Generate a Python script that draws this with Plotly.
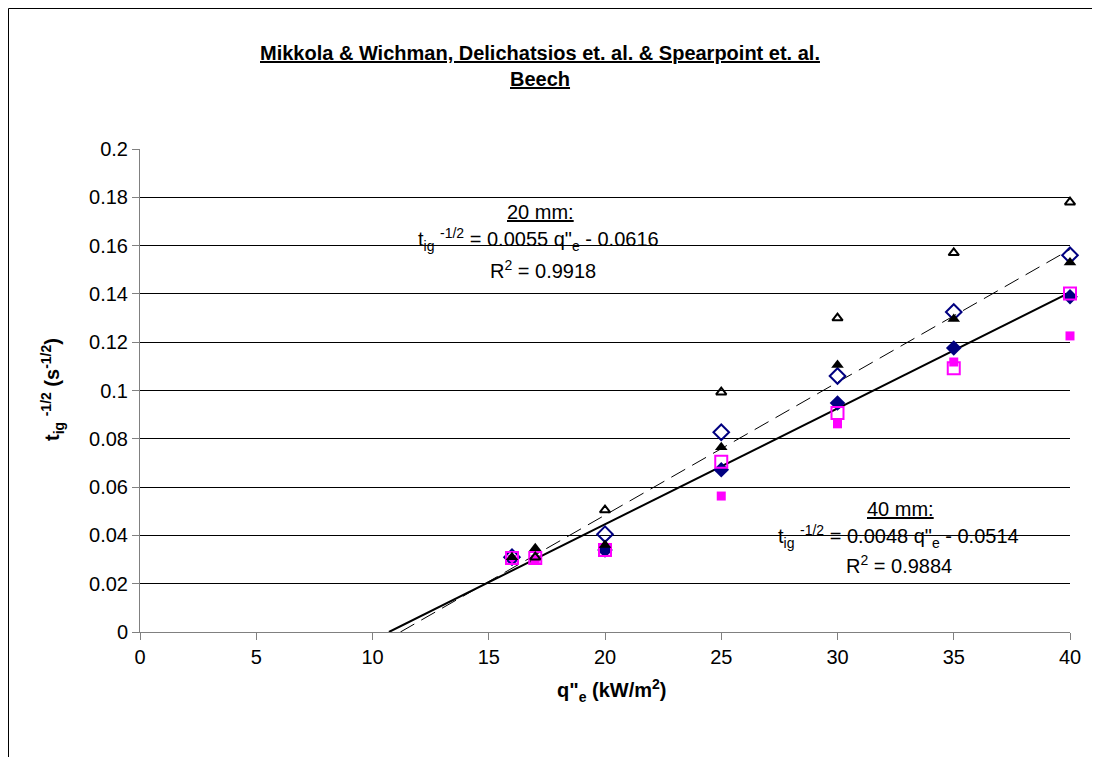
import plotly.graph_objects as go

# ---------------- data ----------------
x_open_tri = [17, 20, 25, 30, 35, 40]
y_open_tri = [0.031, 0.0505, 0.0993, 0.130, 0.157, 0.178]

x_fill_tri = [16, 17, 20, 25, 30, 35, 40]
y_fill_tri = [0.031, 0.0347, 0.036, 0.0765, 0.1106, 0.1296, 0.1530]

x_open_dia = [16, 20, 25, 30, 35, 40]
y_open_dia = [0.031, 0.0405, 0.0827, 0.1060, 0.1325, 0.1560]

x_fill_dia = [20, 25, 30, 35, 40]
y_fill_dia = [0.034, 0.0672, 0.0948, 0.1176, 0.1388]

x_open_sq = [16, 17, 20, 25, 30, 35, 40]
y_open_sq = [0.0306, 0.0306, 0.0340, 0.0705, 0.0907, 0.1092, 0.1402]

x_fill_sq = [16, 17, 20, 25, 30, 35, 40]
y_fill_sq = [0.0300, 0.0300, 0.0340, 0.0563, 0.0862, 0.1118, 0.1226]

# trendline coefficients (slope, intercept)
fit_20mm = (0.0055, -0.0616)
fit_40mm = (0.0048, -0.0514)
fit_x_end = 40

x_ticks = [0, 5, 10, 15, 20, 25, 30, 35, 40]
y_ticks = [0, 0.02, 0.04, 0.06, 0.08, 0.1, 0.12, 0.14, 0.16, 0.18, 0.2]
y_ticktext = ["0", "0.02", "0.04", "0.06", "0.08", "0.1", "0.12", "0.14", "0.16", "0.18", "0.2"]

# ---------------- layout helpers ----------------
W, H = 1100, 757
OFF = 8  # page body margin
PLOT_L, PLOT_R, PLOT_T, PLOT_B = 140, 1070, 149, 632  # page pixels
L = PLOT_L - OFF
T = PLOT_T - OFF
R = W - (PLOT_R - OFF)
B = H - (PLOT_B - OFF)
PW, PH = PLOT_R - PLOT_L, PLOT_B - PLOT_T


def px(xp):
    return (xp - PLOT_L) / PW


def py(yp):
    return (PLOT_B - yp) / PH


FONT = "Arial, Liberation Sans, sans-serif"
NAVY = "#000080"
MAG = "#FF00FF"

fig = go.Figure()


def trend(fit):
    m, b = fit
    x0 = -b / m
    return [x0, fit_x_end], [m * x0 + b, m * fit_x_end + b]


tx, ty = trend(fit_20mm)
fig.add_trace(go.Scatter(x=tx, y=ty, mode="lines",
                         line=dict(color="black", width=1, dash="16px,8px"),
                         showlegend=False, hoverinfo="skip"))
tx, ty = trend(fit_40mm)
fig.add_trace(go.Scatter(x=tx, y=ty, mode="lines",
                         line=dict(color="black", width=2),
                         showlegend=False, hoverinfo="skip"))

fig.add_trace(go.Scatter(x=x_fill_sq, y=y_fill_sq, mode="markers", cliponaxis=False,
                         marker=dict(symbol="square", size=9, color=MAG, line=dict(width=0)),
                         showlegend=False))
fig.add_trace(go.Scatter(x=x_fill_dia, y=y_fill_dia, mode="markers", cliponaxis=False,
                         marker=dict(symbol="diamond", size=12, color=NAVY, line=dict(width=0)),
                         showlegend=False))
fig.add_trace(go.Scatter(x=x_open_dia, y=y_open_dia, mode="markers", cliponaxis=False,
                         marker=dict(symbol="diamond-open", size=12, color=NAVY, line=dict(width=2, color=NAVY)),
                         showlegend=False))
fig.add_trace(go.Scatter(x=x_open_sq, y=y_open_sq, mode="markers", cliponaxis=False,
                         marker=dict(symbol="square-open", size=12, color=MAG, line=dict(width=2, color=MAG)),
                         showlegend=False))
fig.add_trace(go.Scatter(x=x_fill_tri, y=y_fill_tri, mode="markers", cliponaxis=False,
                         marker=dict(symbol="triangle-up", size=11, color="black", line=dict(width=0)),
                         showlegend=False))
fig.add_trace(go.Scatter(x=x_open_tri, y=y_open_tri, mode="markers", cliponaxis=False,
                         marker=dict(symbol="triangle-up-open", size=9, color="black", line=dict(width=2, color="black")),
                         showlegend=False))

ann = []


def text(xpix, ypix, s, size=20):
    ann.append(dict(x=px(xpix), y=py(ypix), xref="paper", yref="paper", text=s,
                    showarrow=False, xanchor="center", yanchor="middle",
                    font=dict(family=FONT, size=size, color="black")))


# title
text(540, 53, "<b><u>Mikkola &amp; Wichman, Delichatsios et. al. &amp; Spearpoint et. al.</u></b>", size=20)
text(540, 79, "<b><u>Beech</u></b>", size=20)

# 20 mm fit
text(540, 212, "<u>20 mm:</u>")
text(538, 240, "t<sub>ig</sub> <sup>-1/2</sup> = 0.0055 q\"<sub>e</sub> - 0.0616")
text(543, 269, "R<sup>2</sup> = 0.9918")

# 40 mm fit
text(900, 509, "<u>40 mm:</u>")
text(898, 536, "t<sub>ig</sub> <sup>-1/2</sup> = 0.0048 q\"<sub>e</sub> - 0.0514")
text(899, 564, "R<sup>2</sup> = 0.9884")

# axis titles
text(612, 690, "<b>q\"<sub>e</sub> (kW/m<sup>2</sup>)</b>")
ann.append(dict(x=px(52), y=py(390), xref="paper", yref="paper",
                text="<b>t<sub>ig</sub> <sup>-1/2</sup> (s<sup>-1/2</sup>)</b>",
                showarrow=False, textangle=-90, xanchor="center", yanchor="middle",
                font=dict(family=FONT, size=20, color="black")))

fig.update_layout(
    width=W, height=H,
    margin=dict(l=L, r=R, t=T, b=B, pad=0),
    paper_bgcolor="white", plot_bgcolor="white",
    showlegend=False,
    annotations=ann,
    shapes=[dict(type="rect", xref="paper", yref="paper",
                 x0=px(8.5), x1=px(1120), y0=py(780), y1=py(8.5),
                 line=dict(color="black", width=1), layer="below")],
    xaxis=dict(range=[0, 40], tickvals=x_ticks, ticks="outside", ticklen=7,
               tickcolor="#808080", showline=True, linecolor="#808080", linewidth=1,
               showgrid=False, zeroline=False,
               tickfont=dict(family=FONT, size=20, color="black")),
    yaxis=dict(range=[0, 0.2], tickvals=y_ticks, ticktext=y_ticktext, ticks="outside",
               ticklen=7, tickcolor="#808080", showline=True, linecolor="#808080",
               linewidth=1, showgrid=True, gridcolor="black", gridwidth=1,
               zeroline=False, tickfont=dict(family=FONT, size=20, color="black")),
)

fig.write_html("out.html")
